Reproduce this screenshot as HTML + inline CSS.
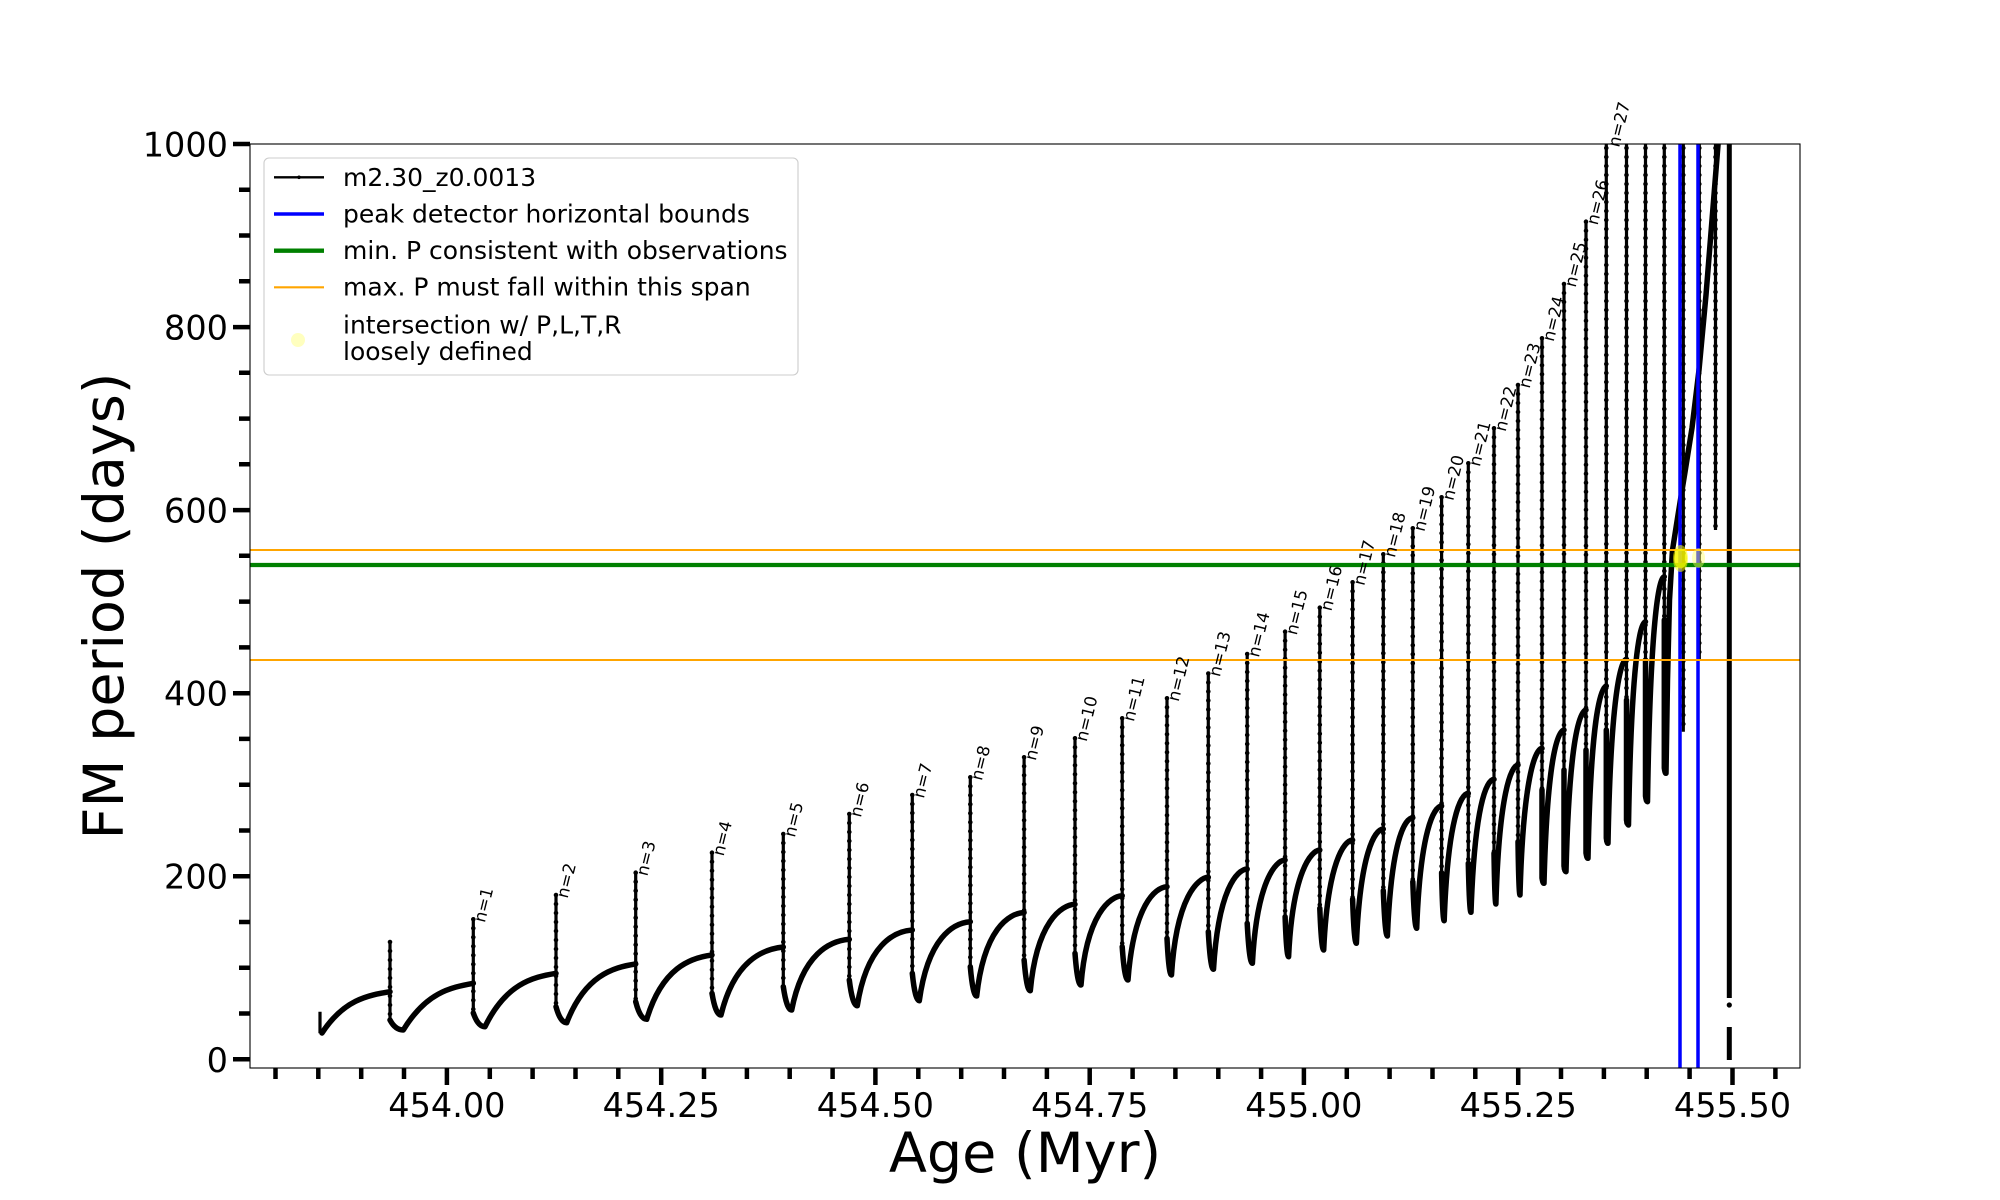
<!DOCTYPE html>
<html><head><meta charset="utf-8"><style>
html,body{margin:0;padding:0;background:#fff;overflow:hidden}
svg{display:block}
text{font-family:"DejaVu Sans","Liberation Sans",sans-serif;fill:#000}
</style></head><body>
<svg width="2000" height="1200" viewBox="0 0 2000 1200" xmlns="http://www.w3.org/2000/svg">
<defs><clipPath id="ax"><rect x="250" y="144" width="1550" height="924"/></clipPath></defs>
<rect width="2000" height="1200" fill="#fff"/>
<g clip-path="url(#ax)">
<path fill="none" stroke="#000" stroke-width="5.5" stroke-linejoin="round" stroke-linecap="round" d="
M322 1033 C343.5 1000 367.3 995.3 390 991.7
M390 1020 Q395.3 1030 403.3 1030 C426 992.6 450 987.6 473.3 983.3
M473.3 1013 Q478 1026.7 485 1026.7 C505.6 984 532.3 977.2 556 973.3
M556 1006.7 Q560.3 1022.7 566.7 1022.7 C584.8 975.7 612.7 967.4 635.7 964
M635.7 1001.7 Q640.1 1019.3 646.7 1019.3 C662.1 967.9 690.2 957.8 712 955
M712 993.3 Q715.6 1015 721 1015 C734.3 960.6 762.5 949.2 783.3 947
M783.3 986.7 Q786.7 1010 791.7 1010 C802.7 953.4 830.1 940.9 849.3 939.3
M849.3 980 Q852.5 1005.7 857.3 1005.7 C866.8 945.1 894 931.2 912.3 930
M912.3 973.3 Q915.1 1000.7 919.3 1000.7 C928 937.5 953.3 922.9 970.3 921.7
M970.3 966.7 Q972.9 996 976.7 996 C983.9 929.2 1008.8 913.2 1024.1 912.5
M1024.1 960 Q1026.6 990.7 1030.3 990.7 C1036.7 921.6 1061.4 904.9 1075 904.3
M1075 953.3 Q1077.4 985 1081 985 C1086.6 913.6 1110.3 896.2 1122.2 895.7
M1122.2 946.7 Q1124.5 980 1128 980 C1133.6 905.4 1155.1 887.2 1167 886.7
M1167 938.3 Q1168.8 975 1171.5 975 C1176.3 896.8 1198.1 877.8 1208.3 877.3
M1208.3 931.7 Q1210.4 969.3 1213.5 969.3 C1218.3 889.1 1237 869.5 1247.2 869
M1247.2 923.3 Q1249.3 963.3 1252.4 963.3 C1256.8 880.7 1275.8 860.5 1285.1 860
M1285.1 916.7 Q1286.5 956.7 1288.6 956.7 C1292.6 871.3 1311.3 850.5 1319.8 850
M1319.8 908.3 Q1321.4 950 1323.7 950 C1327.7 862 1344.1 840.5 1352.6 840
M1352.6 899.3 Q1354.1 943.3 1356.4 943.3 C1360.4 851.9 1374.8 829.5 1383.3 829
M1383.3 890.7 Q1385 936 1387.4 936 C1391.4 841.4 1404.3 818.4 1412.8 817.7
M1412.8 881.7 Q1414.4 928.3 1416.7 928.3 C1420.3 830.5 1433.9 806.5 1441.6 806
M1441.6 872.7 Q1442.6 920.7 1444.2 920.7 C1447.8 818.8 1460.6 793.8 1468.3 793.3
M1468.3 863.3 Q1469.4 912.3 1471 912.3 C1474.6 805.9 1486.3 779.8 1494 779.3
M1494 853.3 Q1494.8 904 1495.9 904 C1499.1 792.8 1511.2 765.5 1518 765
M1518 841.7 Q1518.8 895 1520 895 C1523.2 777.6 1535.2 748.8 1542 748.3
M1542 790 L1542 878 Q1542.8 883.3 1544 883.3 C1547.2 760.7 1557.3 730.5 1564 730
M1564 770 L1564 866 Q1564.8 871.7 1566 871.7 C1569.2 742.3 1579.3 710.5 1586 710
M1586 750 L1586 853 Q1586.8 858.3 1588 858.3 C1590.8 720.5 1600.4 686.5 1606.3 686
M1606.3 730 L1606.3 838 Q1607 843.3 1608 843.3 C1610.8 696.1 1620.6 659.8 1626.5 659.3
M1626.5 700 L1626.5 820 Q1627.3 825 1628.5 825 C1631.3 662.4 1639.8 622.2 1645.5 621.7
M1645.5 660 L1645.5 796 Q1646.3 801.7 1647.5 801.7 C1650.3 621.7 1658.7 577.2 1664.3 576.7
M1664.3 620 L1664.3 768 Q1665 773.3 1666 773.3 L1667.5 680 L1669.5 600 L1672.5 550 L1678 515 L1685 472 L1692 428 L1699 370 L1706 295 L1712 220 L1718 145 L1721 105"/>
<g fill="none" stroke="#000" stroke-width="3.2">
<path id="vv" d="M320 1011.7V1033.3 M390 942V1020 M473.3 919.3V1013 M556 895V1006.7 M635.7 872.7V1001.7 M712 852.7V993.3 M783.3 834V986.7 M849.3 814V980 M912.3 795V973.3 M970.3 777.3V966.7 M1024.1 757.3V960 M1075 738.3V953.3 M1122.2 718.3V946.7 M1167 698.3V938.3 M1208.3 673.5V931.7 M1247.2 654V923.3 M1285.1 631.7V916.7 M1319.8 607.7V908.3 M1352.6 582.3V899.3 M1383.3 554.3V890.7 M1412.8 528.3V881.7 M1441.6 497.3V872.7 M1468.3 463.3V863.3 M1494 428.3V853.3 M1518 385V841.7 M1542 338.3V883.3 M1564 284V871.7 M1586 221.7V858.3 M1606.3 130V843.3 M1626.5 130V825 M1645.5 130V801.7 M1664.3 130V773.3 M1683.3 130V731.7 M1699.3 130V660 M1715.5 130V530"/>
</g>
<path fill="none" stroke="#000" stroke-width="4.6" stroke-linecap="round" stroke-dasharray="0 9" d="M390 942V1020 M473.3 919.3V1013 M556 895V1006.7 M635.7 872.7V1001.7 M712 852.7V993.3 M783.3 834V986.7 M849.3 814V980 M912.3 795V973.3 M970.3 777.3V966.7 M1024.1 757.3V960 M1075 738.3V953.3 M1122.2 718.3V946.7 M1167 698.3V938.3 M1208.3 673.5V931.7 M1247.2 654V923.3 M1285.1 631.7V916.7 M1319.8 607.7V908.3 M1352.6 582.3V899.3 M1383.3 554.3V890.7 M1412.8 528.3V881.7 M1441.6 497.3V872.7 M1468.3 463.3V863.3 M1494 428.3V853.3 M1518 385V841.7 M1542 338.3V883.3 M1564 284V871.7 M1586 221.7V858.3 M1606.3 130V843.3 M1626.5 130V825 M1645.5 130V801.7 M1664.3 130V773.3 M1683.3 130V731.7 M1699.3 130V660 M1715.5 130V530"/>
<path fill="none" stroke="#000" stroke-width="5" d="M1729.3 130V998 M1729.3 1027V1060"/>
<circle cx="1729.3" cy="1005" r="2.6" fill="#000"/>
<!-- blue -->
<line x1="1680" y1="140" x2="1680" y2="1072" stroke="#0000ff" stroke-width="3.5"/>
<line x1="1698" y1="140" x2="1698" y2="1072" stroke="#0000ff" stroke-width="3.5"/>
<!-- green -->
<line x1="250" y1="565" x2="1800" y2="565" stroke="#008000" stroke-width="4.3"/>
<!-- orange -->
<line x1="250" y1="550" x2="1800" y2="550" stroke="#ffa500" stroke-width="2.1"/>
<line x1="250" y1="660" x2="1800" y2="660" stroke="#ffa500" stroke-width="2.1"/>
<!-- intersection blobs -->
<ellipse cx="1680.5" cy="558.5" rx="7.5" ry="13.5" fill="#ffff00" opacity="0.55"/>
<ellipse cx="1680.5" cy="558.5" rx="6.5" ry="10" fill="#f2f200" opacity="0.7"/>
<ellipse cx="1698.5" cy="558" rx="6.5" ry="10" fill="#ffff66" opacity="0.45"/>
</g>
<!-- spines -->
<rect x="250" y="144" width="1550" height="924" fill="none" stroke="#000" stroke-width="1.1"/>
<!-- x ticks -->
<g stroke="#000" stroke-width="4.5">
<path d="M446.9 1068v17 M661.2 1068v17 M875.4 1068v17 M1089.7 1068v17 M1303.9 1068v17 M1518.2 1068v17 M1732.5 1068v17"/>
<path d="M275.5 1068v11 M318.3 1068v11 M361.2 1068v11 M404 1068v11 M489.8 1068v11 M532.6 1068v11 M575.5 1068v11 M618.3 1068v11 M704 1068v11 M746.9 1068v11 M789.7 1068v11 M832.6 1068v11 M918.3 1068v11 M961.2 1068v11 M1004 1068v11 M1046.9 1068v11 M1132.6 1068v11 M1175.4 1068v11 M1218.3 1068v11 M1261.1 1068v11 M1346.8 1068v11 M1389.6 1068v11 M1432.5 1068v11 M1475.3 1068v11 M1561 1068v11 M1603.9 1068v11 M1646.7 1068v11 M1689.6 1068v11 M1775.4 1068v11"/>
<path d="M250 1059.3h-17 M250 876.2h-17 M250 693.2h-17 M250 510.1h-17 M250 327.1h-17 M250 144h-17"/>
<path d="M250 1013.5h-11 M250 967.8h-11 M250 922h-11 M250 830.5h-11 M250 784.7h-11 M250 738.9h-11 M250 647.4h-11 M250 601.6h-11 M250 555.8h-11 M250 464.3h-11 M250 418.6h-11 M250 372.8h-11 M250 281.3h-11 M250 235.5h-11 M250 189.8h-11"/>
</g>
<g font-size="33.5" text-anchor="middle">
<text x="446.9" y="1117">454.00</text>
<text x="661.2" y="1117">454.25</text>
<text x="875.4" y="1117">454.50</text>
<text x="1089.7" y="1117">454.75</text>
<text x="1303.9" y="1117">455.00</text>
<text x="1518.2" y="1117">455.25</text>
<text x="1732.5" y="1117">455.50</text>
</g>
<g font-size="33.5" text-anchor="end">
<text x="228" y="1071.8">0</text>
<text x="228" y="888.7">200</text>
<text x="228" y="705.7">400</text>
<text x="228" y="522.6">600</text>
<text x="228" y="339.6">800</text>
<text x="228" y="156.5">1000</text>
</g>
<text x="1025" y="1172" font-size="55.6" text-anchor="middle">Age (Myr)</text>
<text transform="translate(123,606) rotate(-90)" font-size="55.6" text-anchor="middle">FM period (days)</text>
<!-- n labels -->
<g font-size="16.7">
<text transform="translate(484.8,923.3) rotate(-76)">n=1</text>
<text transform="translate(567.5,899) rotate(-76)">n=2</text>
<text transform="translate(647.2,876.7) rotate(-76)">n=3</text>
<text transform="translate(723.5,856.7) rotate(-76)">n=4</text>
<text transform="translate(794.8,838) rotate(-76)">n=5</text>
<text transform="translate(860.8,818) rotate(-76)">n=6</text>
<text transform="translate(923.8,799) rotate(-76)">n=7</text>
<text transform="translate(981.8,781.3) rotate(-76)">n=8</text>
<text transform="translate(1035.6,761.3) rotate(-76)">n=9</text>
<text transform="translate(1086.5,742.3) rotate(-76)">n=10</text>
<text transform="translate(1133.7,722.3) rotate(-76)">n=11</text>
<text transform="translate(1178.5,702.3) rotate(-76)">n=12</text>
<text transform="translate(1219.8,677.5) rotate(-76)">n=13</text>
<text transform="translate(1258.7,658) rotate(-76)">n=14</text>
<text transform="translate(1296.6,635.7) rotate(-76)">n=15</text>
<text transform="translate(1331.3,611.7) rotate(-76)">n=16</text>
<text transform="translate(1364.1,586.3) rotate(-76)">n=17</text>
<text transform="translate(1394.8,558.3) rotate(-76)">n=18</text>
<text transform="translate(1424.3,532.3) rotate(-76)">n=19</text>
<text transform="translate(1453.1,501.3) rotate(-76)">n=20</text>
<text transform="translate(1479.8,467.3) rotate(-76)">n=21</text>
<text transform="translate(1505.5,432.3) rotate(-76)">n=22</text>
<text transform="translate(1529.5,389) rotate(-76)">n=23</text>
<text transform="translate(1553.5,342.3) rotate(-76)">n=24</text>
<text transform="translate(1575.5,288) rotate(-76)">n=25</text>
<text transform="translate(1597.5,225.7) rotate(-76)">n=26</text>
<text transform="translate(1619,148) rotate(-76)">n=27</text>
</g>
<!-- legend -->
<rect x="264" y="158" width="534" height="217" rx="5" ry="5" fill="#fff" fill-opacity="0.8" stroke="#cccccc" stroke-width="1.1"/>
<line x1="274" y1="177.3" x2="324" y2="177.3" stroke="#000" stroke-width="2.4"/>
<circle cx="299" cy="177.3" r="1.8" fill="#000"/>
<line x1="274" y1="214" x2="324" y2="214" stroke="#0000ff" stroke-width="3.5"/>
<line x1="274" y1="250.7" x2="324" y2="250.7" stroke="#008000" stroke-width="4.3"/>
<line x1="274" y1="287.3" x2="324" y2="287.3" stroke="#ffa500" stroke-width="2.1"/>
<circle cx="298" cy="340" r="7" fill="#ffffbf"/>
<g font-size="25">
<text x="343" y="186">m2.30_z0.0013</text>
<text x="343" y="222.5">peak detector horizontal bounds</text>
<text x="343" y="259">min. P consistent with observations</text>
<text x="343" y="295.5">max. P must fall within this span</text>
<text x="343" y="333.5">intersection w/ P,L,T,R</text>
<text x="343" y="360">loosely defined</text>
</g>
</svg>
</body></html>
